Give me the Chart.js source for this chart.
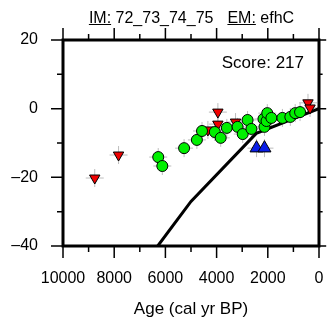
<!DOCTYPE html>
<html>
<head>
<meta charset="utf-8">
<script src="https://cdn.jsdelivr.net/npm/chart.js@4/dist/chart.umd.min.js"></script>
<style>
  body { margin: 0; background: #fff; }
  #wrap { position: relative; width: 329px; height: 322px; }
  #title {
    position: absolute; left: 0; width: 383px; top: 9px;
    text-align: center; font: 16px "Liberation Sans", Arial, sans-serif; color: #000;
    white-space: nowrap;
  }
  #title .gap { display: inline-block; width: 14px; }
</style>
</head>
<body>
<div id="wrap">
  <canvas id="chart" width="329" height="322"></canvas>
  <div id="title"><u>IM:</u> 72_73_74_75<span class="gap"></span><u>EM:</u> efhC</div>
</div>
<script>
// green circles
let greenAge = [6280, 6120, 5270, 4770, 4570, 4070, 3840, 3600, 3180, 2980, 2790, 2640, 2170, 2130, 2050, 2020, 1860, 1430, 1120, 930, 740]
let greenVal = [-14.1, -16.7, -11.5, -9.1, -6.5, -6.8, -8.5, -5.6, -5.3, -7.4, -3.3, -5.9, -3.0, -5.3, -3.6, -1.3, -2.7, -2.7, -2.4, -1.3, -1.0]

// red down triangles
let redAge = [8760, 7830, 4340, 3950, 3950, 3260, 430, 350]
let redVal = [-20.2, -13.5, -6.2, -1.0, -4.5, -3.9, 1.7, 0.2]

// blue up triangles
let blueAge = [2440, 2130]
let blueVal = [-11.5, -11.5]

// black model line
let lineAge = [0, 2450, 5000, 6300]
let lineVal = [0, -7.2, -27, -40]

let xTicks = [0, 2000, 4000, 6000, 8000, 10000]
let yTicks = [-40, -20, 0, 20]
let scoreText = 'Score: 217'

function toPoints(xs, ys){
    return xs.map((x, i) => ({x: x, y: ys[i]}))
}

let allPts = toPoints(greenAge, greenVal).concat(toPoints(redAge, redVal), toPoints(blueAge, blueVal))

const framePlugin = {
    id: 'frame',
    afterDatasetsDraw(chart){
        const c = chart.ctx
        const a = chart.chartArea
        const xs = chart.scales.x
        const ys = chart.scales.y
        c.save()
        c.strokeStyle = '#000'
        c.lineWidth = 1.5
        c.beginPath()
        for (let v = 0; v <= 10000; v += 1000) {
            let px = xs.getPixelForValue(v)
            let len = (v % 2000 == 0) ? 12 : 6
            c.moveTo(px, a.bottom); c.lineTo(px, a.bottom + len)
            c.moveTo(px, a.top); c.lineTo(px, a.top - len)
        }
        for (let v = -40; v <= 20; v += 10) {
            let py = ys.getPixelForValue(v)
            let len = (v % 20 == 0) ? 12 : 6
            c.moveTo(a.left, py); c.lineTo(a.left - len, py)
            c.moveTo(a.right, py); c.lineTo(a.right + len * 0.6, py)
        }
        c.stroke()

        c.lineWidth = 3
        c.strokeRect(a.left, a.top, a.right - a.left, a.bottom - a.top)

        c.fillStyle = '#000'
        c.font = '17px "Liberation Sans", Arial, sans-serif'
        c.textAlign = 'right'
        c.textBaseline = 'middle'
        c.fillText(scoreText, a.right - 15, a.top + 23)
        c.restore()
    }
}

function fixX(s){
    s.height = 76
    s.paddingLeft = 0
    s.paddingRight = 0
}

function fixY(s){
    s.width = 63
    s.paddingTop = 0
    s.paddingBottom = 0
}

const ctx = document.getElementById('chart').getContext('2d')
const myChart = new Chart(ctx, {
    type: 'scatter',
    data: {
        datasets: [
            {
                label: 'errors',
                data: allPts,
                pointStyle: 'cross',
                pointRadius: 9,
                borderColor: '#bdbdbd',
                borderWidth: 1,
                order: 5
            },
            {
                label: 'model',
                type: 'line',
                data: toPoints(lineAge, lineVal),
                borderColor: '#000',
                borderWidth: 3,
                pointRadius: 0,
                fill: false,
                order: 4
            },
            {
                label: 'blue',
                data: toPoints(blueAge, blueVal),
                pointStyle: 'triangle',
                pointRadius: 7.5,
                backgroundColor: '#0a1ee8',
                borderColor: '#000',
                borderWidth: 1,
                order: 3
            },
            {
                label: 'red',
                data: toPoints(redAge, redVal),
                pointStyle: 'triangle',
                rotation: 180,
                pointRadius: 6,
                backgroundColor: '#f00000',
                borderColor: '#000',
                borderWidth: 1,
                order: 2
            },
            {
                label: 'green',
                data: toPoints(greenAge, greenVal),
                pointStyle: 'circle',
                pointRadius: 5.5,
                backgroundColor: '#00f000',
                borderColor: '#000',
                borderWidth: 1,
                order: 1
            }
        ]
    },
    options: {
        responsive: false,
        animation: false,
        layout: { padding: { top: 40, right: 8, left: 0, bottom: 0 } },
        plugins: {
            legend: { display: false },
            tooltip: { enabled: false }
        },
        scales: {
            x: {
                type: 'linear',
                reverse: true,
                min: 0,
                max: 10000,
                afterFit: fixX,
                afterBuildTicks: s => { s.ticks = xTicks.map(v => ({value: v})) },
                grid: { display: false, drawTicks: false },
                border: { display: false },
                ticks: {
                    padding: 23,
                    color: '#000',
                    maxRotation: 0,
                    autoSkip: false,
                    font: { family: 'Liberation Sans', size: 16 },
                    callback: v => String(v)
                },
                title: {
                    display: true,
                    text: 'Age (cal yr BP)',
                    color: '#000',
                    font: { family: 'Liberation Sans', size: 17 },
                    padding: { top: 0, bottom: 2 }
                }
            },
            y: {
                min: -40,
                max: 20,
                afterFit: fixY,
                afterBuildTicks: s => { s.ticks = yTicks.map(v => ({value: v})) },
                grid: { display: false, drawTicks: false },
                border: { display: false },
                ticks: {
                    padding: 25,
                    color: '#000',
                    autoSkip: false,
                    font: { family: 'Liberation Sans', size: 16 },
                    callback: v => v < 0 ? '\u2013' + Math.abs(v) : String(v)
                }
            }
        }
    },
    plugins: [framePlugin]
})
</script>
</body>
</html>
